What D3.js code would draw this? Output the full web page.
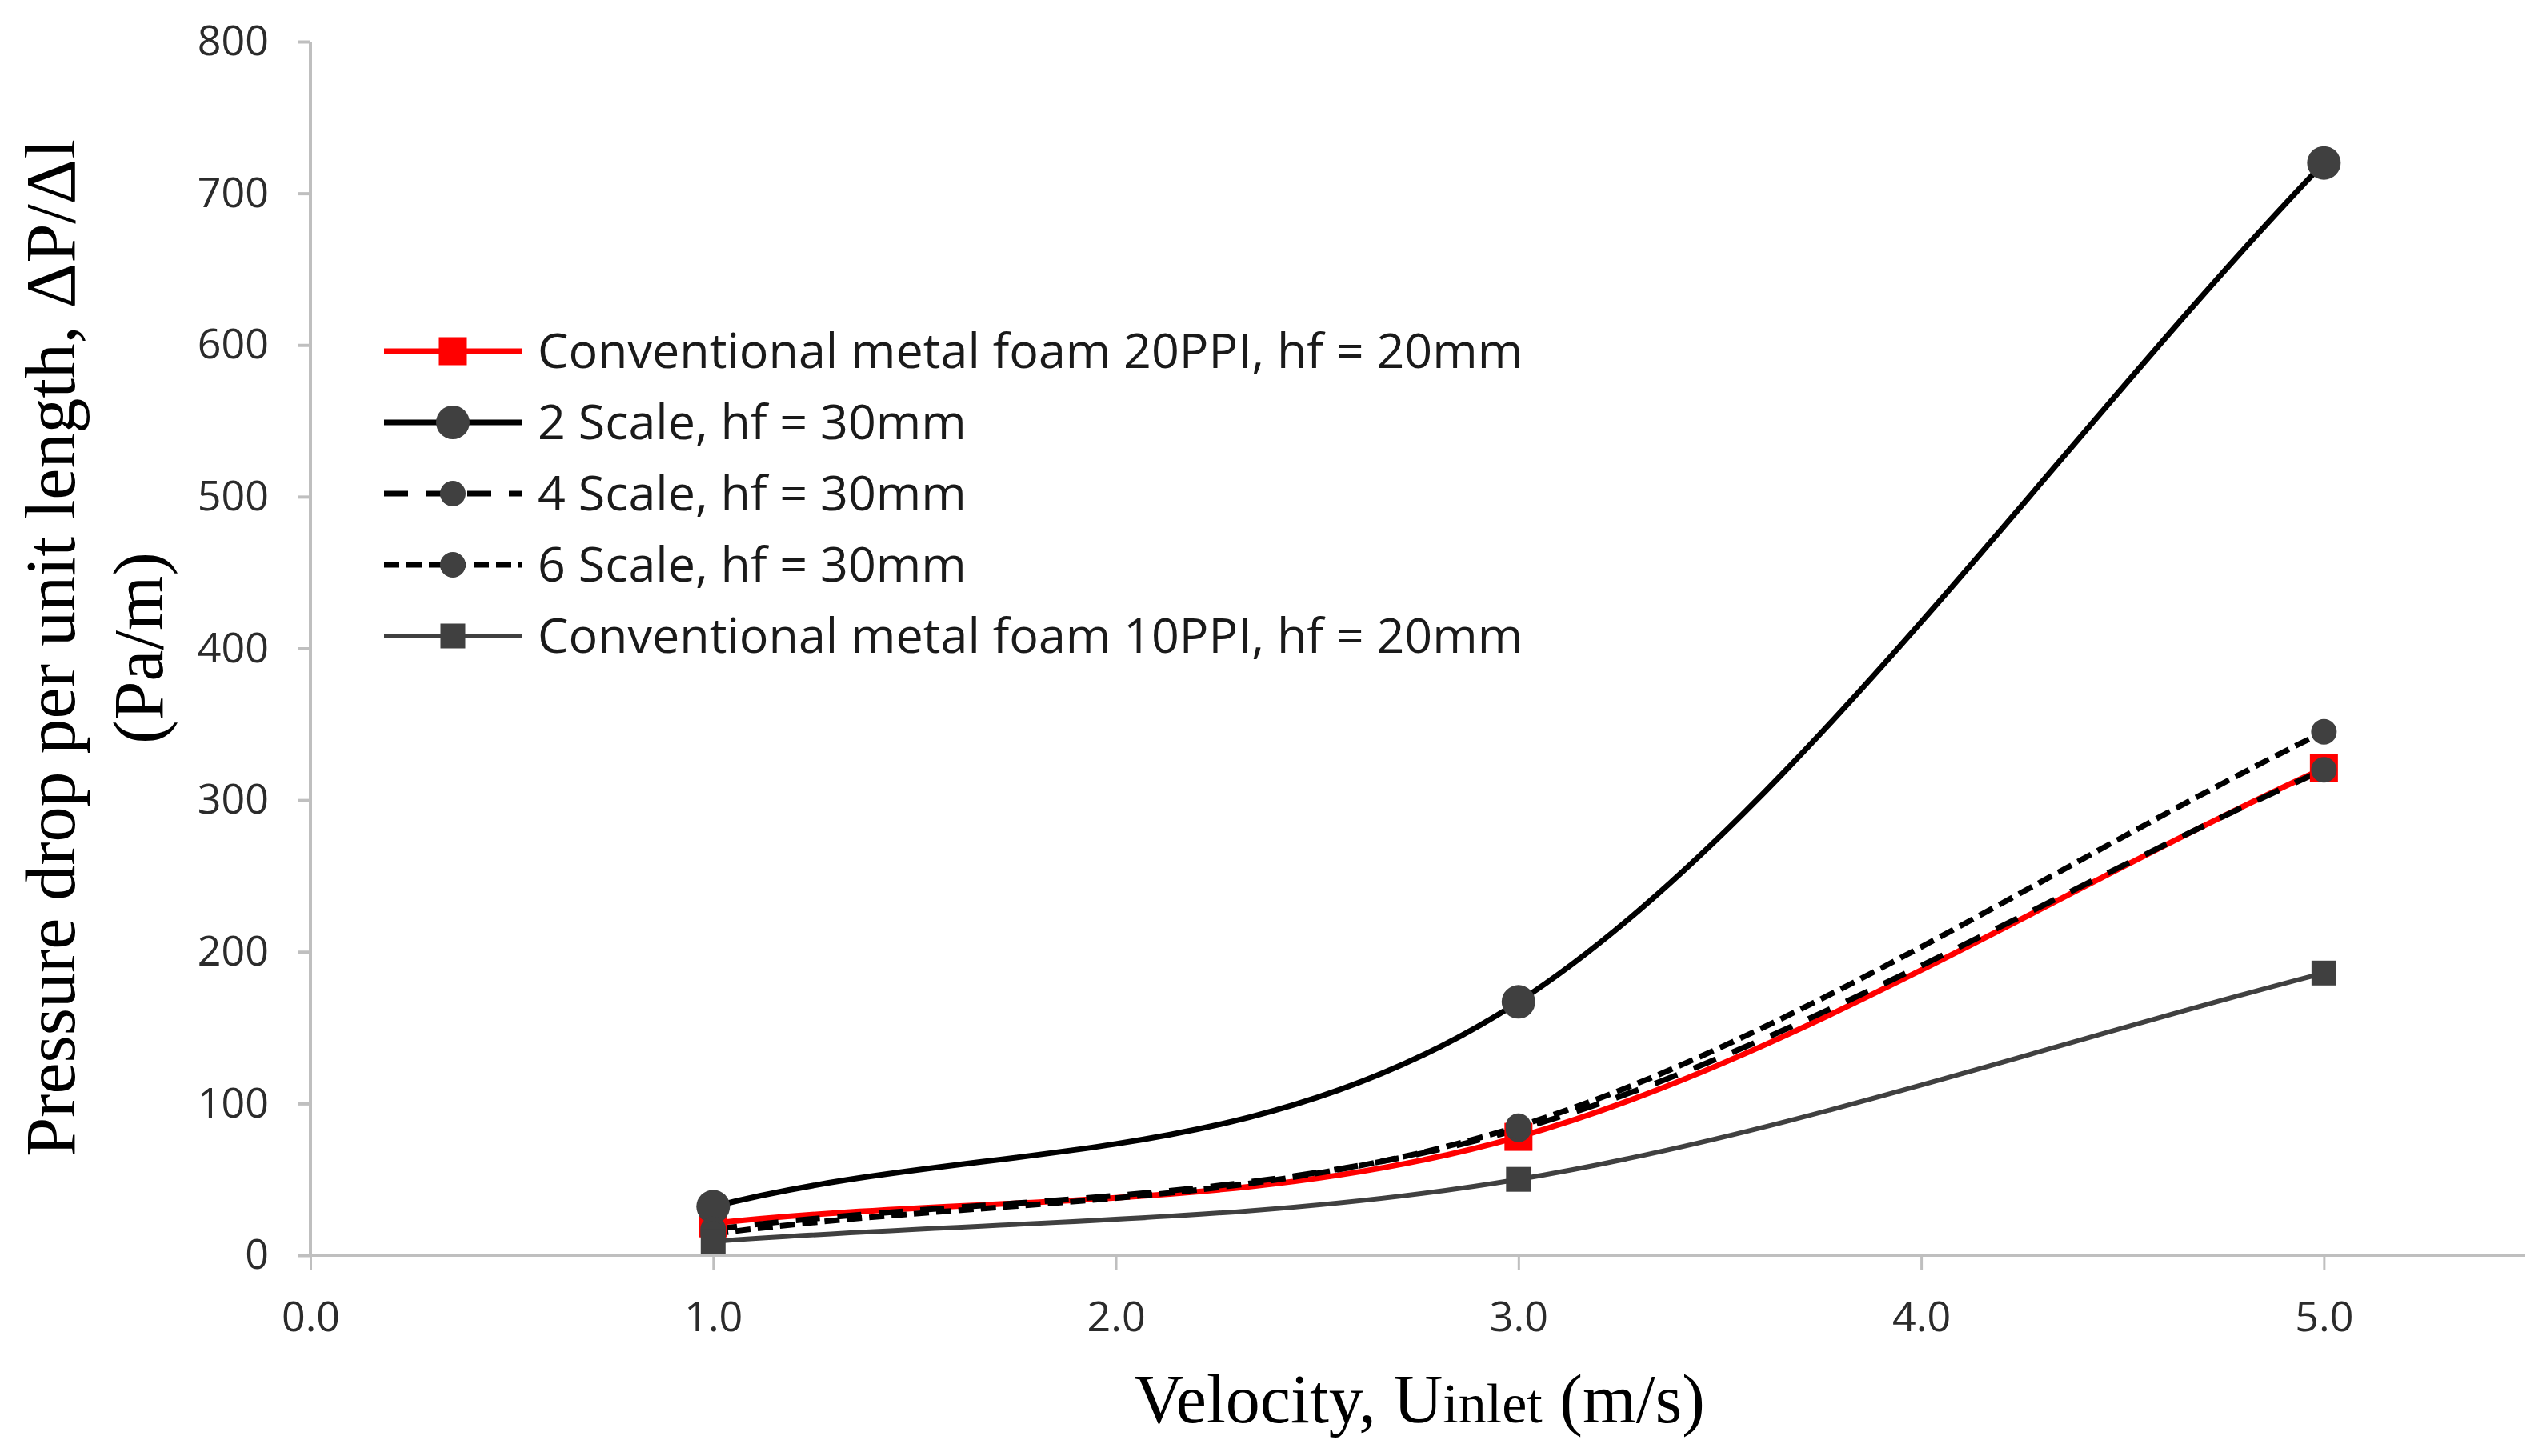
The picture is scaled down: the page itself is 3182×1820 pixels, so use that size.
<!DOCTYPE html>
<html>
<head>
<meta charset="utf-8">
<script src="https://cdn.jsdelivr.net/npm/d3@7"></script>
<style>
    body { margin: 0; background: #fff; }
    svg { display: block; }
</style>
</head>
<body>
<svg id="chart"></svg>
<script>
// chart values
const velocities = [1.0, 3.0, 5.0];
const xTicks = [0, 1, 2, 3, 4, 5];
const yTicks = [0, 100, 200, 300, 400, 500, 600, 700, 800];

const seriesNames = [
    "Conventional metal foam 20PPI, hf = 20mm",
    "2 Scale, hf = 30mm",
    "4 Scale, hf = 30mm",
    "6 Scale, hf = 30mm",
    "Conventional metal foam 10PPI, hf = 20mm"
];
const foam20ppi = [21, 78, 321];
const scale2 = [32, 167, 720];
const scale4 = [17, 83, 320];
const scale6 = [14, 85, 345];
const foam10ppi = [9, 50, 186];

const width = 3182, height = 1820;
const margin = { top: 52, right: 26, bottom: 251, left: 388 };
const innerW = width - margin.left - margin.right;
const innerH = height - margin.top - margin.bottom;

const styles = [
    { stroke: "#ff0000", dash: null, lw: 7, marker: "square", size: 35, fill: "#ff0000" },
    { stroke: "#000000", dash: null, lw: 7, marker: "circle", size: 21, fill: "#404040" },
    { stroke: "#000000", dash: "30,22", lw: 7, marker: "circle", size: 16, fill: "#404040" },
    { stroke: "#000000", dash: "19,9", lw: 7, marker: "circle", size: 16, fill: "#404040" },
    { stroke: "#404040", dash: null, lw: 6, marker: "square", size: 31, fill: "#404040" }
];

const series = [foam20ppi, scale2, scale4, scale6, foam10ppi].map(function (vals, i) {
    return {
        name: seriesNames[i],
        style: styles[i],
        points: vals.map(function (v, j) { return { x: velocities[j], y: v }; })
    };
});

const svg = d3.select("#chart")
    .attr("width", width)
    .attr("height", height);

const g = svg.append("g")
    .attr("transform", "translate(" + margin.left + "," + margin.top + ")");

let x = d3.scaleLinear().domain([0, 5.5]).range([0, innerW]);
let y = d3.scaleLinear().domain([0, 800]).range([innerH, 0]);

const axisColor = "#bfbfbf";
const tickFont = "'Open Sans', 'Noto Sans', sans-serif";
const tickColor = "#2b2b2b";

// y axis
let yAxis = d3.axisLeft(y)
    .tickValues(yTicks)
    .tickSize(16)
    .tickPadding(36)
    .tickSizeOuter(0);

let yg = g.append("g").call(yAxis);
yg.select(".domain").attr("stroke", axisColor).attr("stroke-width", 4)
    .attr("d", "M0," + y(0) + "V" + y(800));
yg.selectAll(".tick line").attr("stroke", axisColor).attr("stroke-width", 4);
yg.selectAll(".tick text")
    .style("font-family", tickFont)
    .style("font-size", "52px")
    .attr("fill", tickColor);

// x axis
let xAxis = d3.axisBottom(x)
    .tickValues(xTicks)
    .tickFormat(d3.format(".1f"))
    .tickSize(18)
    .tickPadding(40)
    .tickSizeOuter(0);

let xg = g.append("g")
    .attr("transform", "translate(0," + innerH + ")")
    .call(xAxis);
xg.select(".domain").attr("stroke", axisColor).attr("stroke-width", 4)
    .attr("d", "M-16,0H" + innerW);
xg.selectAll(".tick line").attr("stroke", axisColor).attr("stroke-width", 3);
xg.selectAll(".tick text")
    .style("font-family", tickFont)
    .style("font-size", "52px")
    .attr("fill", tickColor);

// smoothed line like the spreadsheet one: catmull-rom bezier with
// mirrored phantom points at both ends
function smoothPath(pts) {
    let n = pts.length;
    let ext = [[2 * pts[0][0] - pts[1][0], 2 * pts[0][1] - pts[1][1]]]
        .concat(pts)
        .concat([[2 * pts[n - 1][0] - pts[n - 2][0], 2 * pts[n - 1][1] - pts[n - 2][1]]]);
    let p = d3.path();
    p.moveTo(pts[0][0], pts[0][1]);
    for (let i = 0; i < n - 1; i++) {
        let p0 = ext[i], p1 = ext[i + 1], p2 = ext[i + 2], p3 = ext[i + 3];
        p.bezierCurveTo(
            p1[0] + (p2[0] - p0[0]) / 6, p1[1] + (p2[1] - p0[1]) / 6,
            p2[0] - (p3[0] - p1[0]) / 6, p2[1] - (p3[1] - p1[1]) / 6,
            p2[0], p2[1]);
    }
    return p.toString();
}

g.selectAll(".series-line")
    .data(series)
    .enter().append("path")
    .attr("class", "series-line")
    .attr("fill", "none")
    .attr("stroke", function (d) { return d.style.stroke; })
    .attr("stroke-width", function (d) { return d.style.lw; })
    .attr("stroke-dasharray", function (d) { return d.style.dash; })
    .attr("d", function (d) {
        return smoothPath(d.points.map(function (p) { return [x(p.x), y(p.y)]; }));
    });

function drawMarker(sel, st, cx, cy) {
    if (st.marker === "circle") {
        sel.append("circle")
            .attr("cx", cx).attr("cy", cy).attr("r", st.size)
            .attr("fill", st.fill);
    } else {
        sel.append("rect")
            .attr("x", cx - st.size / 2).attr("y", cy - st.size / 2)
            .attr("width", st.size).attr("height", st.size)
            .attr("fill", st.fill);
    }
}

// markers, in series order
series.forEach(function (s) {
    let mg = g.append("g");
    s.points.forEach(function (p) {
        drawMarker(mg, s.style, x(p.x), y(p.y));
    });
});

// legend
const legendX = 480, legendY = 439, legendStep = 89;
let legend = svg.append("g");
series.forEach(function (s, i) {
    let ly = legendY + i * legendStep;
    let row = legend.append("g");
    row.append("line")
        .attr("x1", legendX).attr("x2", legendX + 172)
        .attr("y1", ly).attr("y2", ly)
        .attr("stroke", s.style.stroke)
        .attr("stroke-width", s.style.lw)
        .attr("stroke-dasharray", s.style.dash);
    drawMarker(row, s.style, legendX + 86, ly);
    row.append("text")
        .attr("x", 672)
        .attr("y", ly)
        .attr("dy", "0.35em")
        .style("font-family", tickFont)
        .style("font-size", "61px")
        .attr("fill", "#1a1a1a")
        .text(s.name);
});

// axis titles
const titleFont = "'Liberation Serif', 'Times New Roman', serif";

let xt = svg.append("text")
    .attr("x", 1774)
    .attr("y", 1778)
    .attr("text-anchor", "middle")
    .style("font-family", titleFont)
    .style("font-size", "86px")
    .attr("fill", "#000");
xt.append("tspan").text("Velocity,  U");
xt.append("tspan").style("font-size", "70px").text("inlet");
xt.append("tspan").text(" (m/s)");

let yt = svg.append("text")
    .attr("transform", "translate(0," + 810 + ") rotate(-90)")
    .attr("text-anchor", "middle")
    .style("font-family", titleFont)
    .style("font-size", "88px")
    .attr("fill", "#000");
yt.append("tspan").attr("x", 0).attr("y", 93).text("Pressure drop per unit length, \u0394P/\u0394l");
yt.append("tspan").attr("x", 0).attr("y", 203).text("(Pa/m)");
</script>
</body>
</html>
